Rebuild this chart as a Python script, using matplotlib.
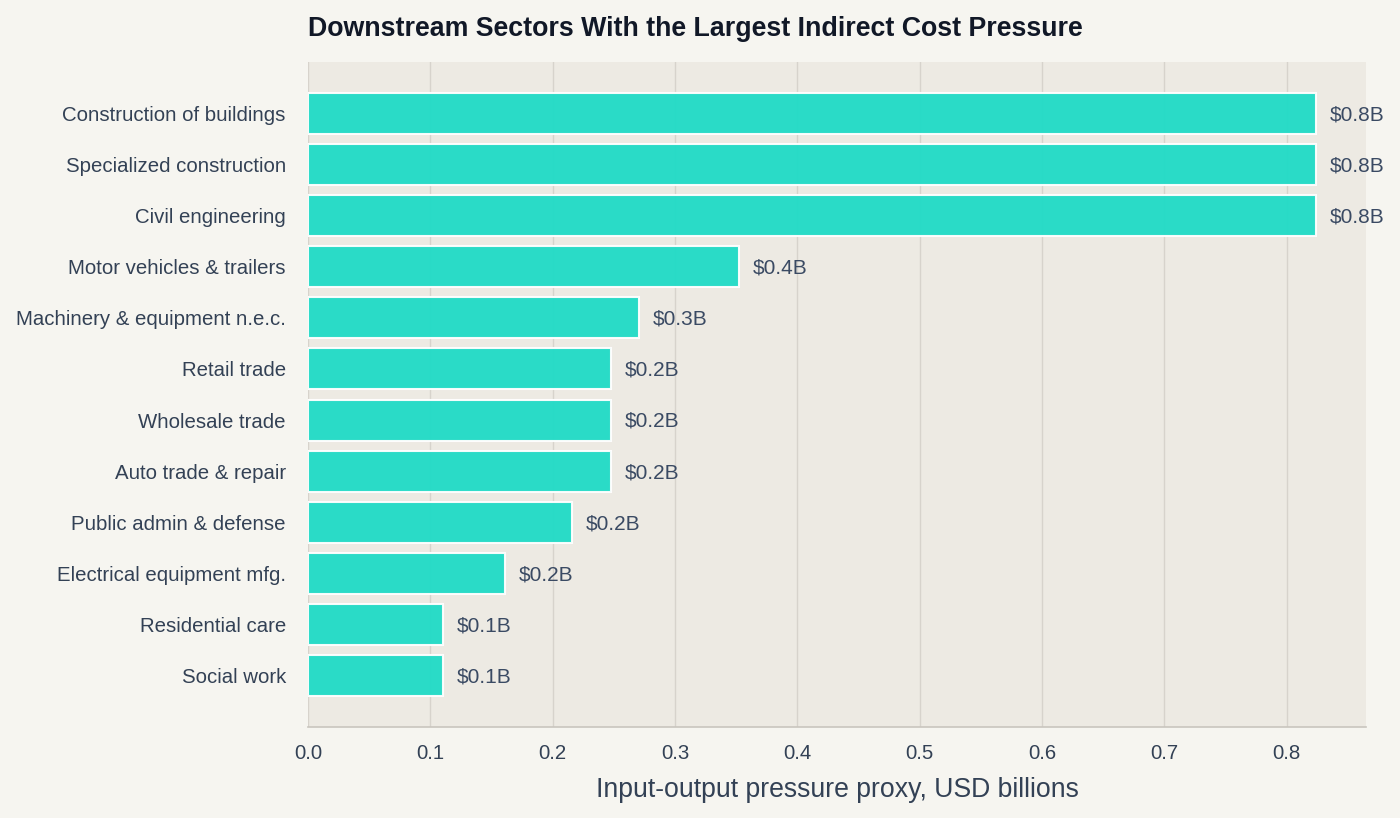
#!/usr/bin/env python3
"""Downstream sectors with the largest indirect cost pressure."""

from matplotlib import pyplot as plt

sectors = [
    "Construction of buildings",
    "Specialized construction",
    "Civil engineering",
    "Motor vehicles & trailers",
    "Machinery & equipment n.e.c.",
    "Retail trade",
    "Wholesale trade",
    "Auto trade & repair",
    "Public admin & defense",
    "Electrical equipment mfg.",
    "Residential care",
    "Social work",
]
pressure = [0.8237, 0.8237, 0.8237, 0.352, 0.2705, 0.2476, 0.2476, 0.2476,
            0.2157, 0.161, 0.110, 0.110]

plt.rcParams["font.family"] = ["Liberation Sans", "DejaVu Sans"]

fig = plt.figure(figsize=(14, 8.18), dpi=100, facecolor="#F6F5F0")
ax = fig.add_axes([0.22, 0.1112, 0.7557, 0.8130])
ax.set_facecolor("#EDEAE3")

ypos = list(range(len(sectors)))
ax.barh(ypos, pressure, height=0.8, color="#1FDBC6", alpha=0.95,
        edgecolor="white", linewidth=1.5, zorder=2)

for y, v in zip(ypos, pressure):
    ax.annotate(f"${v:.1f}B", (v, y), xytext=(10, -1),
                textcoords="offset points", va="center", ha="left",
                fontsize=15, color="#3A4A63")

ax.set_ylim(len(sectors), -1)
ax.set_xlim(0, max(pressure) * 1.05)
ax.set_yticks(ypos)
ax.set_yticklabels(sectors)
ax.set_xticks([0.0, 0.1, 0.2, 0.3, 0.4, 0.5, 0.6, 0.7, 0.8])
ax.tick_params(axis="both", length=0, labelsize=14.7, colors="#334155")
ax.tick_params(axis="y", pad=16)
ax.tick_params(axis="x", pad=12)

ax.grid(axis="x", color="#D7D3CC", linewidth=1, zorder=0)
ax.set_axisbelow(True)
for side in ("left", "right", "top"):
    ax.spines[side].set_visible(False)
ax.spines["bottom"].set_color("#C9C5BE")
ax.spines["bottom"].set_linewidth(1.2)

ax.set_xlabel("Input-output pressure proxy, USD billions", fontsize=19.2,
              color="#334155", labelpad=10)
ax.set_title("Downstream Sectors With the Largest Indirect Cost Pressure",
             loc="left", fontsize=19.3, fontweight="bold", color="#111827",
             pad=19)

fig.savefig("out.png", dpi=100, facecolor=fig.get_facecolor())
